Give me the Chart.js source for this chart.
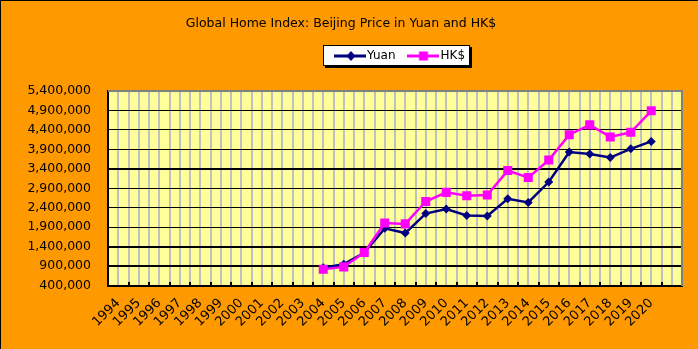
<!DOCTYPE html>
<html>
<head>
<meta charset="utf-8">
<script src="https://cdn.jsdelivr.net/npm/chart.js@4.4.1/dist/chart.umd.min.js"></script>
<style>
  html, body { margin: 0; padding: 0; background: #ff9900; }
  #wrap { width: 698px; height: 349px; }
</style>
</head>
<body>
<div id="wrap"><canvas id="homeIndex" width="698" height="349"></canvas></div>
<script>
// one slot per year, plus an empty trailing slot on the axis
const years = ['1994', '1995', '1996', '1997', '1998', '1999', '2000', '2001', '2002',
  '2003', '2004', '2005', '2006', '2007', '2008', '2009', '2010', '2011', '2012',
  '2013', '2014', '2015', '2016', '2017', '2018', '2019', '2020', ''];

const yuan = [null, null, null, null, null, null, null, null, null, null,
  860000, 950000, 1240000, 1870000, 1750000, 2250000, 2365000, 2200000, 2190000,
  2630000, 2535000, 3060000, 3830000, 3780000, 3690000, 3915000, 4105000, null];

const hkd = [null, null, null, null, null, null, null, null, null, null,
  820000, 880000, 1250000, 2010000, 1985000, 2560000, 2795000, 2710000, 2725000,
  3355000, 3175000, 3625000, 4277000, 4530000, 4220000, 4340000, 4890000, null];

const priceTicks = [400000, 900000, 1400000, 1900000, 2400000, 2900000,
  3400000, 3900000, 4400000, 4900000, 5400000];

// rules that come out heavier in the original export
const heavyRules = [900000, 1400000, 3400000];

const FONT = 'DejaVu Sans';

// legend swatch: a short line with the series marker in the middle
function swatch(color, marker) {
  const c = document.createElement('canvas');
  c.width = 32; c.height = 12;
  const g = c.getContext('2d');
  g.strokeStyle = color;
  g.lineWidth = 3;
  g.beginPath(); g.moveTo(0, 6); g.lineTo(32, 6); g.stroke();
  g.fillStyle = color;
  if (marker === 'diamond') {
    g.beginPath();
    g.moveTo(17, 1); g.lineTo(21.5, 6); g.lineTo(17, 11); g.lineTo(12.5, 6);
    g.closePath(); g.fill();
  } else {
    g.fillRect(11.5, 1.5, 9, 9);
  }
  return c;
}
const swatches = [swatch('#000080', 'diamond'), swatch('#ff00ff', 'square')];

const chartFrame = {
  id: 'chartFrame',
  afterLayout(chart) {
    // lift the legend up under the title
    const lg = chart.legend;
    lg.top -= 19; lg.bottom -= 19;
    lg.left += 7; lg.right += 7;
  },
  beforeDraw(chart) {
    const { ctx, chartArea: a, scales: { x } } = chart;
    ctx.save();
    ctx.fillStyle = '#ff9900';
    ctx.fillRect(0, 0, chart.width, chart.height);
    ctx.fillStyle = '#000';
    ctx.fillRect(0, 0, chart.width, 1);
    ctx.fillRect(0, 0, 1, chart.height);

    ctx.fillStyle = '#ffff99';
    ctx.fillRect(a.left, a.top, a.right - a.left, a.bottom - a.top);

    // extra grey rules through the middle of each year
    ctx.fillStyle = '#c0c0c0';
    years.forEach((_, i) => {
      const px = Math.round(x.getPixelForValue(i));
      ctx.fillRect(px - 1, a.top, 2, a.bottom - a.top);
    });

    // legend panel with a drop shadow
    const hb = chart.legend.legendHitBoxes;
    if (hb && hb.length) {
      const last = hb[hb.length - 1];
      const l = Math.round(hb[0].left - 16), r = Math.round(last.left + last.width + 5);
      const t = Math.round(hb[0].top - 5), b = Math.round(hb[0].top + hb[0].height + 4);
      ctx.fillStyle = '#000';
      ctx.fillRect(l + 2, t + 2, r - l, b - t);
      ctx.fillStyle = '#fff';
      ctx.fillRect(l, t, r - l, b - t);
      ctx.strokeStyle = '#000';
      ctx.lineWidth = 1;
      ctx.strokeRect(l + 0.5, t + 0.5, r - l - 1, b - t - 1);
    }
    ctx.restore();
  },
  afterDraw(chart) {
    const { ctx, chartArea: a, scales: { x } } = chart;
    ctx.save();
    ctx.fillStyle = '#808080';
    ctx.fillRect(Math.round(a.left), Math.round(a.top) - 1, Math.round(a.right - a.left) + 1, 2);
    ctx.fillRect(Math.round(a.right) - 1, Math.round(a.top) - 1, 2, Math.round(a.bottom - a.top) + 1);
    // small tick marks between years, inside the bottom edge
    ctx.fillStyle = '#000';
    const step = x.getPixelForValue(1) - x.getPixelForValue(0);
    for (let i = 1; i < years.length; i++) {
      const px = Math.round(x.getPixelForValue(i) - step / 2);
      ctx.fillRect(px - 1, Math.round(a.bottom) - 4, 2, 4);
    }
    ctx.restore();
  }
};

new Chart(document.getElementById('homeIndex'), {
  type: 'line',
  data: {
    labels: years,
    datasets: [
      {
        label: 'Yuan',
        data: yuan,
        borderColor: '#000080',
        backgroundColor: '#000080',
        borderWidth: 2.5,
        pointStyle: 'rectRot',
        pointRadius: 4.5,
        pointBorderWidth: 0,
        order: 1
      },
      {
        label: 'HK$',
        data: hkd,
        borderColor: '#ff00ff',
        backgroundColor: '#ff00ff',
        borderWidth: 2.5,
        pointStyle: 'rect',
        pointRadius: 6.4,
        pointBorderWidth: 0,
        order: 0
      }
    ]
  },
  options: {
    responsive: false,
    animation: false,
    events: [],
    layout: { padding: { left: 0, right: 16, top: 0, bottom: 9 } },
    plugins: {
      title: {
        display: true,
        text: 'Global Home Index: Beijing Price in Yuan and HK$',
        color: '#000',
        font: { family: FONT, size: 12.5, weight: 'normal' },
        padding: { top: 16, bottom: 21 }
      },
      legend: {
        fullSize: false,
        labels: {
          usePointStyle: true,
          pointStyleWidth: 22,
          padding: 17,
          color: '#000',
          font: { family: FONT, size: 12 },
          generateLabels(chart) {
            return Chart.defaults.plugins.legend.labels.generateLabels(chart)
              .sort((p, q) => p.datasetIndex - q.datasetIndex)
              .map(item => Object.assign(item, { pointStyle: swatches[item.datasetIndex] }));
          }
        }
      },
      tooltip: { enabled: false }
    },
    scales: {
      x: {
        offset: true,
        grid: { offset: true, color: '#c0c0c0', lineWidth: 2, drawTicks: false },
        border: { color: '#000', width: 2 },
        ticks: {
          autoSkip: false,
          minRotation: 45,
          maxRotation: 45,
          padding: 10,
          color: '#000',
          font: { family: FONT, size: 13 }
        }
      },
      y: {
        min: priceTicks[0],
        max: priceTicks[priceTicks.length - 1],
        afterBuildTicks: scale => { scale.ticks = priceTicks.map(v => ({ value: v })); },
        afterFit: scale => { scale.width = 108; },
        grid: {
          drawTicks: false,
          color: ctx => ctx.tick && ctx.tick.value === priceTicks[priceTicks.length - 1] ? '#808080' : '#000',
          lineWidth: ctx => ctx.tick && heavyRules.includes(ctx.tick.value) ? 2 : 1
        },
        border: { color: '#000', width: 2 },
        ticks: {
          padding: 17,
          color: '#000',
          font: { family: FONT, size: 12.5 },
          callback: v => v.toLocaleString('en-US')
        }
      }
    }
  },
  plugins: [chartFrame]
});
</script>
</body>
</html>
